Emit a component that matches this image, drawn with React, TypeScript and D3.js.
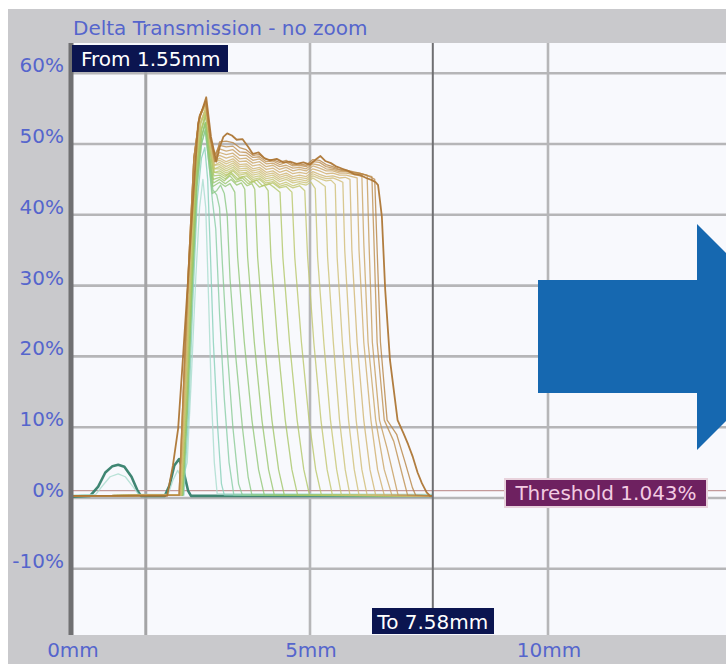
import React from "react";
import * as d3 from "d3";

const W = 726;
const H = 664;

// Axis ticks and markers
const yTicks = [-10, 0, 10, 20, 30, 40, 50, 60];
const xTicks = [0, 5, 10];
const xGrid = [5, 10];
const fromMm = 1.55;
const toMm = 7.58;
const thresholdPct = 1.043;
const titleText = "Delta Transmission - no zoom";

// Scans: [position mm, delta transmission %]
const scan01 = [[0,0.2],[0.38,0.3],[0.55,1.6],[0.7,3.6],[0.85,4.5],[0.97,4.7],[1.1,4.4],[1.25,3.0],[1.38,1.0],[1.45,0.3],[1.95,0.3],[2.05,1.8],[2.15,4.6],[2.25,5.5],[2.35,3.6],[2.44,1.0],[2.5,0.3],[7.58,0.3]];
const scan02 = [[0,0.4],[0.5,0.5],[0.65,1.8],[0.8,3.0],[0.97,3.4],[1.12,3.0],[1.28,1.6],[1.4,0.5],[2.02,0.5],[2.12,2.5],[2.22,3.9],[2.32,2.6],[2.42,5],[2.5,16],[2.6,31],[2.68,41],[2.75,45],[2.81,41],[2.87,28],[2.93,14],[2.99,5],[3.05,0.6],[7.58,0.5]];
const scan03 = [[0,0.3],[2.35,0.4],[2.45,12],[2.54,28],[2.63,42],[2.72,48],[2.79,49.5],[2.85,45],[2.9,36],[2.97,22],[3.06,10],[3.14,2],[3.2,0.4],[7.58,0.3]];
const scan04 = [[0,0.3],[2.33,0.4],[2.43,13],[2.52,29],[2.62,44],[2.72,50],[2.8,52],[2.88,47],[2.95,42],[3.02,38],[3.1,26],[3.2,14],[3.3,5],[3.4,0.4],[7.58,0.3]];
const scan05 = [[0,0.3],[2.32,0.4],[2.42,14],[2.52,31],[2.62,45],[2.72,51],[2.8,53],[2.88,48],[2.96,43.5],[3.04,42.8],[3.1,41],[3.16,33],[3.26,21],[3.38,10],[3.5,2],[3.58,0.4],[7.58,0.3]];
const scan06 = [[0,0.3],[2.33,0.4],[2.43,13],[2.53,30],[2.63,44],[2.72,50],[2.8,52],[2.88,47],[2.95,43],[3.04,43.4],[3.12,44.2],[3.2,43],[3.26,40],[3.32,31],[3.44,20],[3.58,10],[3.7,3],[3.78,0.4],[7.58,0.3]];
const scan07 = [[0,0.3],[2.32,0.4],[2.42,13],[2.52,30],[2.62,45],[2.72,51],[2.8,53],[2.88,48],[2.96,44],[3.1,44.6],[3.22,44.0],[3.32,44.4],[3.42,43.2],[3.48,34],[3.62,22],[3.78,11],[3.92,4],[4.04,0.4],[7.58,0.3]];
const scan08 = [[0,0.3],[2.32,0.4],[2.42,14],[2.52,31],[2.62,45],[2.72,51],[2.81,53],[2.89,48],[2.97,44.5],[3.1,45],[3.22,44.4],[3.34,45],[3.46,44.2],[3.56,44.5],[3.63,43.6],[3.69,34],[3.83,22],[3.99,11],[4.13,4],[4.25,0.4],[7.58,0.3]];
const scan09 = [[0,0.3],[2.31,0.4],[2.41,14],[2.51,31],[2.61,46],[2.72,52],[2.81,54],[2.89,48.5],[2.97,45],[3.1,45.3],[3.2,44.8],[3.32,45.5],[3.44,44.6],[3.56,44.9],[3.68,44.1],[3.78,44.4],[3.84,43.6],[3.9,34],[4.04,22],[4.2,11],[4.34,4],[4.46,0.4],[7.58,0.3]];
const scan10 = [[0,0.3],[2.31,0.4],[2.41,14],[2.51,32],[2.61,46],[2.72,52],[2.81,54],[2.9,49],[2.98,45.5],[3.1,45.6],[3.22,45.1],[3.34,45.8],[3.46,44.9],[3.58,45.2],[3.7,44.4],[3.82,44.7],[3.94,43.9],[4.04,44.2],[4.12,43.4],[4.18,34],[4.32,22],[4.48,11],[4.62,4],[4.74,0.4],[7.58,0.3]];
const scan11 = [[0,0.3],[2.3,0.4],[2.4,15],[2.5,32],[2.6,46],[2.71,52],[2.81,54.5],[2.9,49],[2.98,46],[3.1,45.9],[3.22,45.4],[3.34,46],[3.48,45.1],[3.6,45.4],[3.74,44.6],[3.88,44.9],[4.0,44.1],[4.14,44.4],[4.26,43.8],[4.37,43.2],[4.43,34],[4.57,22],[4.73,11],[4.87,4],[4.99,0.4],[7.58,0.3]];
const scan12 = [[0,0.3],[2.3,0.4],[2.4,15],[2.5,32],[2.6,47],[2.71,53],[2.81,54.5],[2.9,49.5],[2.99,46],[3.1,46.2],[3.24,45.6],[3.38,46.2],[3.52,45.3],[3.66,45.5],[3.8,44.7],[3.94,45],[4.08,44.2],[4.22,44.5],[4.36,43.8],[4.5,44],[4.62,43.2],[4.68,34],[4.82,22],[4.98,11],[5.12,4],[5.24,0.4],[7.58,0.3]];
const scan13 = [[0,0.3],[2.29,0.4],[2.39,15],[2.49,33],[2.59,47],[2.7,53],[2.81,55],[2.9,49.5],[2.99,46.5],[3.1,46.5],[3.24,45.9],[3.38,46.4],[3.52,45.6],[3.66,45.8],[3.8,45],[3.94,45.2],[4.08,44.5],[4.22,44.7],[4.36,44],[4.5,44.3],[4.64,43.8],[4.78,44.1],[4.89,43.4],[4.95,34],[5.08,22],[5.23,11],[5.36,4],[5.47,0.4],[7.58,0.3]];
const scan14 = [[0,0.3],[2.29,0.4],[2.39,15],[2.49,33],[2.59,47],[2.7,53],[2.81,55],[2.9,50],[2.99,46.5],[3.1,46.8],[3.24,46.2],[3.38,46.7],[3.52,45.9],[3.66,46],[3.8,45.3],[3.94,45.5],[4.08,44.8],[4.22,45],[4.36,44.3],[4.5,44.6],[4.64,44.1],[4.78,44.4],[4.92,44.2],[5.02,44.6],[5.11,43.7],[5.16,34],[5.29,22],[5.43,11],[5.56,4],[5.66,0.4],[7.58,0.3]];
const scan15 = [[0,0.3],[2.28,0.4],[2.38,16],[2.48,33],[2.58,47],[2.7,53],[2.81,55],[2.9,50],[2.99,47],[3.1,47.1],[3.24,46.5],[3.38,47],[3.52,46.2],[3.66,46.3],[3.8,45.6],[3.94,45.8],[4.08,45.1],[4.22,45.3],[4.36,44.7],[4.5,45],[4.64,44.5],[4.78,44.7],[4.92,44.5],[5.06,45.2],[5.18,44.7],[5.32,44],[5.37,34],[5.49,22],[5.62,11],[5.74,4],[5.84,0.4],[7.58,0.3]];
const scan16 = [[0,0.3],[2.28,0.4],[2.38,16],[2.48,33],[2.58,47],[2.69,54],[2.81,55.5],[2.9,50],[2.99,47],[3.1,47.4],[3.24,46.8],[3.38,47.3],[3.52,46.5],[3.66,46.6],[3.8,45.9],[3.94,46.1],[4.08,45.4],[4.22,45.6],[4.36,45],[4.5,45.3],[4.64,44.8],[4.78,45],[4.92,44.8],[5.06,45.5],[5.2,45.1],[5.34,44.8],[5.44,44.9],[5.53,44.3],[5.57,34],[5.68,22],[5.81,11],[5.93,4],[6.03,0.4],[7.58,0.3]];
const scan17 = [[0,0.3],[2.27,0.4],[2.37,16],[2.47,33],[2.57,47],[2.69,54],[2.81,55.5],[2.9,50.5],[2.99,47.5],[3.1,47.7],[3.24,47.2],[3.38,47.6],[3.52,46.8],[3.66,46.9],[3.8,46.2],[3.94,46.4],[4.08,45.7],[4.22,45.9],[4.36,45.3],[4.5,45.6],[4.64,45.1],[4.78,45.3],[4.92,45.1],[5.06,45.8],[5.2,45.4],[5.34,45.1],[5.48,45.2],[5.6,44.9],[5.69,44.6],[5.73,35],[5.84,22],[5.97,11],[6.09,4],[6.2,0.4],[7.58,0.3]];
const scan18 = [[0,0.3],[2.27,0.4],[2.37,16],[2.47,33],[2.57,48],[2.69,54],[2.81,55.5],[2.9,50.5],[2.99,47.5],[3.1,48],[3.24,47.5],[3.38,47.9],[3.52,47.1],[3.66,47.2],[3.8,46.5],[3.94,46.7],[4.08,46],[4.22,46.2],[4.36,45.6],[4.5,45.9],[4.64,45.4],[4.78,45.6],[4.92,45.4],[5.06,46.1],[5.2,45.7],[5.34,45.4],[5.48,45.5],[5.62,45.2],[5.74,45.3],[5.84,45],[5.88,35],[5.99,22],[6.13,11],[6.26,4],[6.38,0.4],[7.58,0.3]];
const scan19 = [[0,0.3],[2.26,0.4],[2.36,16],[2.46,33],[2.57,48],[2.69,54],[2.81,56],[2.9,51],[2.99,48],[3.1,48.4],[3.24,48],[3.38,48.3],[3.52,47.5],[3.66,47.6],[3.8,46.9],[3.94,47.1],[4.08,46.4],[4.22,46.6],[4.36,46],[4.5,46.3],[4.64,45.8],[4.78,46],[4.92,45.8],[5.06,46.5],[5.2,46.2],[5.34,45.8],[5.48,45.9],[5.62,45.6],[5.76,45.6],[5.88,45.4],[5.99,45.2],[6.03,35],[6.13,22],[6.28,11],[6.42,4],[6.56,0.4],[7.58,0.3]];
const scan20 = [[0,0.3],[2.26,0.4],[2.36,17],[2.46,33],[2.56,48],[2.68,54],[2.81,56],[2.9,51],[3.0,48],[3.1,48.8],[3.24,48.5],[3.38,48.7],[3.52,47.9],[3.66,48],[3.8,47.3],[3.94,47.5],[4.08,46.8],[4.22,47],[4.36,46.4],[4.5,46.7],[4.64,46.2],[4.78,46.4],[4.92,46.2],[5.06,46.9],[5.2,46.6],[5.34,46.2],[5.48,46.2],[5.62,45.9],[5.76,45.9],[5.9,45.7],[6.0,45.6],[6.09,45.4],[6.13,36],[6.22,22],[6.38,11],[6.56,4],[6.72,0.4],[7.58,0.3]];
const scan21 = [[0,0.3],[2.25,0.4],[2.35,17],[2.45,33],[2.56,48],[2.68,54],[2.81,56],[2.9,51],[3.0,48.5],[3.1,49.3],[3.24,49],[3.38,49.2],[3.52,48.4],[3.66,48.4],[3.8,47.7],[3.94,47.9],[4.08,47.2],[4.22,47.3],[4.36,46.8],[4.5,47],[4.64,46.6],[4.78,46.7],[4.92,46.5],[5.06,47.2],[5.2,47],[5.34,46.5],[5.48,46.4],[5.62,46.1],[5.76,46.1],[5.9,45.9],[6.04,45.8],[6.12,45.7],[6.2,45.6],[6.24,36],[6.31,22],[6.46,11],[6.62,7],[6.85,0.4],[7.58,0.3]];
const scan22 = [[0,0.3],[2.25,0.4],[2.35,17],[2.45,33],[2.56,48],[2.68,54],[2.81,56],[2.9,51],[3.0,48.5],[3.1,49.8],[3.24,49.6],[3.38,49.7],[3.52,48.9],[3.66,48.8],[3.8,48.1],[3.94,48.2],[4.08,47.5],[4.22,47.6],[4.36,47.1],[4.5,47.4],[4.64,46.9],[4.78,47],[4.92,46.8],[5.06,47.5],[5.2,47.4],[5.34,46.8],[5.48,46.6],[5.62,46.3],[5.76,46.2],[5.9,46],[6.04,45.9],[6.18,45.6],[6.3,45.4],[6.34,37],[6.41,22],[6.56,11],[6.76,8],[6.95,3],[7.05,0.4],[7.58,0.3]];
const scan23 = [[0,0.3],[2.25,0.4],[2.35,17],[2.45,33],[2.56,48],[2.68,54],[2.81,56],[2.9,51],[3.0,47.5],[3.1,50.3],[3.24,50.4],[3.38,50.2],[3.52,49.5],[3.66,49.2],[3.8,48.4],[3.94,48.5],[4.08,47.8],[4.22,47.8],[4.36,47.4],[4.5,47.7],[4.64,47.1],[4.78,47.2],[4.92,47],[5.06,47.8],[5.2,47.7],[5.34,47.1],[5.48,46.8],[5.62,46.4],[5.76,46.3],[5.9,46.1],[6.04,45.9],[6.18,45.6],[6.28,45.3],[6.36,45],[6.4,37],[6.48,22],[6.62,11],[6.82,9],[7.0,5],[7.15,1.5],[7.22,0.4],[7.58,0.3]];
const scan24 = [[0,0.3],[2.0,0.3],[2.12,4.6],[2.23,9.8],[2.33,19.7],[2.44,31],[2.52,39.7],[2.65,53],[2.82,56.6],[2.92,51],[3.03,47.5],[3.1,49.5],[3.18,51],[3.26,51.5],[3.36,51.2],[3.46,50.6],[3.58,50.7],[3.7,49.6],[3.8,48.6],[3.92,48.8],[4.04,48],[4.16,47.7],[4.3,47.9],[4.44,47.4],[4.58,47.5],[4.72,47.2],[4.86,47.4],[5.0,47.1],[5.12,47.8],[5.22,48.3],[5.32,47.6],[5.44,47.3],[5.56,46.8],[5.68,46.5],[5.8,46.2],[5.94,45.7],[6.06,45.6],[6.18,45.2],[6.3,44.9],[6.38,44.6],[6.43,44.2],[6.47,42],[6.51,39.7],[6.58,29.4],[6.68,19.5],[6.84,11],[6.96,9.2],[7.06,7.6],[7.16,5.8],[7.26,3.6],[7.35,2.1],[7.45,0.8],[7.52,0.3],[7.58,0.3]];

const scans = [scan01, scan02, scan03, scan04, scan05, scan06, scan07, scan08, scan09, scan10, scan11, scan12,
  scan13, scan14, scan15, scan16, scan17, scan18, scan19, scan20, scan21, scan22, scan23, scan24];

const FONT = "'DejaVu Sans', Verdana, sans-serif";
const LABEL_BLUE = "#5565cc";

export default function App() {
  const plotLeft = 72;
  const plotTop = 43;
  const plotBottom = 635;
  const plotRight = W;

  const x = d3.scaleLinear().domain([0, 10]).range([72, 548]);
  const y = d3.scaleLinear().domain([0, 60]).range([498, 73.2]);

  const line = d3
    .line<number[]>()
    .x((d) => x(d[0]))
    .y((d) => y(d[1]));

  const ramp = d3.interpolateRgbBasis(["#86d0b8", "#8cc468", "#b6c862", "#d3c47c", "#d2ac6c", "#ad7635"]);
  const colorOf = (i: number) => {
    if (i === 0) return "#35806c";
    if (i === 1) return "#a8dccd";
    return ramp((i - 2) / (scans.length - 3));
  };

  const xFrom = x(fromMm);
  const xTo = x(toMm);
  const yThr = y(thresholdPct);

  // Annotation arrow on the right
  const arrow = [
    [538, 280], [697, 280], [697, 224], [810, 337], [697, 450], [697, 393], [538, 393],
  ];

  return (
    <svg
      width={W}
      height={H}
      viewBox={`0 0 ${W} ${H}`}
      style={{ position: "absolute", left: 0, top: 0, display: "block" }}
    >
      <defs>
        <clipPath id="plotClip">
          <rect x={plotLeft} y={plotTop} width={plotRight - plotLeft} height={plotBottom - plotTop} />
        </clipPath>
      </defs>
      <rect x={0} y={0} width={W} height={H} fill="#ffffff" />
      <rect x={8} y={9} width={W - 8} height={H - 9} fill="#c9c9cc" />
      <rect x={plotLeft} y={plotTop} width={plotRight - plotLeft} height={plotBottom - plotTop} fill="#f8f9fd" />

      {/* grid */}
      {yTicks.map((t) => (
        <line key={"gy" + t} x1={plotLeft} x2={plotRight} y1={y(t)} y2={y(t)} stroke="#b6b6b8" strokeWidth={2.6} />
      ))}
      {xGrid.map((t) => (
        <line key={"gx" + t} x1={x(t)} x2={x(t)} y1={plotTop} y2={plotBottom} stroke="#b6b6b8" strokeWidth={2.6} />
      ))}

      {/* From marker */}
      <line x1={xFrom} x2={xFrom} y1={72} y2={plotBottom} stroke="#a4a4a6" strokeWidth={3} />

      {/* threshold */}
      <line x1={plotLeft} x2={plotRight} y1={yThr} y2={yThr} stroke="#c49a9a" strokeWidth={1.4} />

      {/* scans */}
      <g clipPath="url(#plotClip)" fill="none" strokeLinejoin="round">
        {scans.map((s, i) => (
          <path
            key={i}
            d={line(s as any) || ""}
            stroke={colorOf(i)}
            strokeWidth={i === 0 ? 2.6 : i === scans.length - 1 ? 1.8 : 1.3}
            strokeOpacity={i === 0 || i === scans.length - 1 ? 0.95 : 0.8}
          />
        ))}
      </g>

      {/* To marker */}
      <line x1={xTo} x2={xTo} y1={plotTop} y2={608} stroke="#6f6f72" strokeWidth={2} />

      {/* left axis bar */}
      <line x1={71} x2={71} y1={plotTop} y2={plotBottom} stroke="#707072" strokeWidth={5} />

      {/* title */}
      <text x={73} y={35} fontFamily={FONT} fontSize={20} fill={LABEL_BLUE}>
        {titleText}
      </text>

      {/* y tick labels */}
      {yTicks.map((t) => (
        <text key={"ly" + t} x={64} y={y(t) - 1} textAnchor="end" fontFamily={FONT} fontSize={20} fill={LABEL_BLUE}>
          {t + "%"}
        </text>
      ))}

      {/* x tick labels */}
      {xTicks.map((t) => (
        <text key={"lx" + t} x={x(t) + 1} y={657} textAnchor="middle" fontFamily={FONT} fontSize={20} fill={LABEL_BLUE}>
          {t + "mm"}
        </text>
      ))}

      {/* From label */}
      <rect x={72} y={45} width={156} height={27} fill="#0b1550" />
      <text x={81} y={66} fontFamily={FONT} fontSize={20} fill="#ffffff">
        {"From " + fromMm.toFixed(2) + "mm"}
      </text>

      {/* To label */}
      <rect x={372} y={608} width={122} height={26} fill="#0b1550" />
      <text x={xTo} y={629} textAnchor="middle" fontFamily={FONT} fontSize={20} fill="#ffffff">
        {"To " + toMm.toFixed(2) + "mm"}
      </text>

      {/* Threshold label */}
      <rect x={505} y={479} width={202} height={28} fill="#6e2160" stroke="#e8d2dc" strokeWidth={2} />
      <text x={606} y={500} textAnchor="middle" fontFamily={FONT} fontSize={20} fill="#f2cbe2">
        {"Threshold " + thresholdPct.toFixed(3) + "%"}
      </text>

      {/* arrow */}
      <polygon points={arrow.map((p) => p.join(",")).join(" ")} fill="#1668b0" />
    </svg>
  );
}
